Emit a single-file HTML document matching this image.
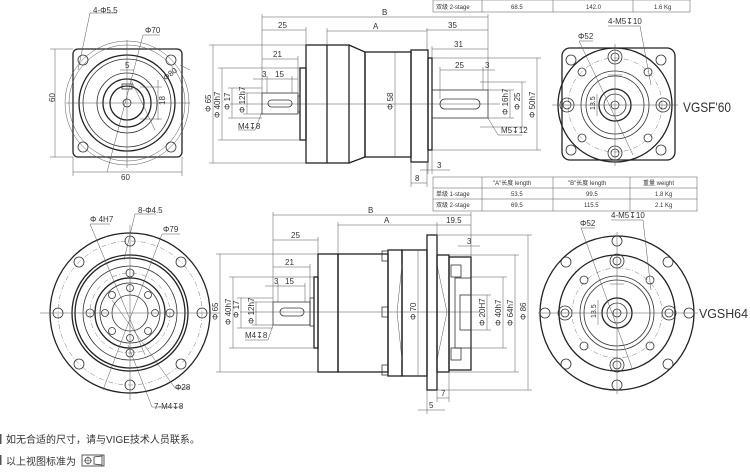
<!DOCTYPE html>
<html><head><meta charset="utf-8"><style>
body{margin:0;background:#fff;width:750px;height:476px;overflow:hidden}
svg{display:block}
text{font-family:"Liberation Sans","Noto Sans CJK SC",sans-serif;fill:#333}
.b{stroke:#222;stroke-width:1.3;fill:none}
.m{stroke:#333;stroke-width:0.8;fill:none}
.t{stroke:#555;stroke-width:0.5;fill:none}
.d{stroke:#777;stroke-width:0.5;fill:none;stroke-dasharray:5 2 1 2}
</style></head><body>
<svg width="750" height="476" viewBox="0 0 750 476" font-size="8">
<!-- ===== TOP LEFT END VIEW ===== -->
<g>
<rect x="73" y="49" width="109" height="108" rx="5" class="b"/>
<circle cx="127" cy="103" r="62" class="t"/>
<circle cx="127" cy="103" r="58" class="t"/>
<circle cx="127" cy="103" r="48" class="b"/>
<circle cx="127" cy="103" r="44" class="m"/>
<circle cx="127" cy="103" r="30" class="m"/>
<circle cx="127" cy="103" r="24" class="b"/>
<circle cx="127" cy="103" r="17" class="b"/>
<circle cx="127" cy="103" r="4" class="m"/>
<rect x="122" y="84" width="10" height="5" class="m"/>
<g class="m"><circle cx="83" cy="60" r="5"/><circle cx="171" cy="60" r="5"/><circle cx="83" cy="147" r="5"/><circle cx="171" cy="147" r="5"/></g>
<g class="t"><line x1="66" y1="103" x2="190" y2="103"/><line x1="127" y1="40" x2="127" y2="168"/>
<line x1="55" y1="49" x2="55" y2="157"/><line x1="50" y1="49" x2="73" y2="49"/><line x1="50" y1="157" x2="73" y2="157"/>
<line x1="73" y1="172" x2="182" y2="172"/><line x1="73" y1="157" x2="73" y2="176"/><line x1="182" y1="157" x2="182" y2="176"/>
<line x1="90" y1="13" x2="78" y2="70"/><line x1="90" y1="13" x2="117" y2="13"/>
<line x1="143" y1="35" x2="107" y2="172"/><line x1="143" y1="35" x2="160" y2="35"/>
<line x1="131" y1="80" x2="155" y2="130"/><line x1="158" y1="80" x2="158" y2="120"/><line x1="140" y1="87" x2="162" y2="87"/><line x1="140" y1="119" x2="162" y2="119"/>
<line x1="120" y1="70" x2="134" y2="70"/><line x1="180" y1="65" x2="190" y2="70"/></g>
<text x="93" y="13">4-Φ5.5</text><text x="145" y="33">Φ70</text>
<text x="163" y="77" transform="rotate(-40 170 75)">Φ80</text>
<text x="125" y="68">5</text><text x="160" y="106" transform="rotate(-90 162 103)">18</text>
<text x="121" y="180">60</text><text x="53" y="106" transform="rotate(-90 52 103)">60</text>
</g>

<!-- ===== TOP SIDE VIEW ===== -->
<g>
<line x1="230" y1="104" x2="500" y2="104" class="t"/>
<rect x="262" y="93" width="36" height="21" class="m"/>
<rect x="268" y="100" width="24" height="7" rx="3.5" class="m"/>
<rect x="298" y="96" width="2" height="16" class="m"/>
<rect x="300" y="68" width="6" height="72" class="b"/>
<rect x="306" y="45" width="43" height="118" class="b"/>
<line x1="327" y1="45" x2="327" y2="163" class="b"/>
<polyline points="349,45 365,52 365,157 349,163" class="b"/>
<rect x="365" y="52" width="46" height="105" class="b"/>
<rect x="411" y="50" width="17" height="112" class="b"/>
<rect x="428" y="58" width="4" height="92" class="b"/>
<rect x="432" y="90" width="56" height="28" class="m"/>
<rect x="440" y="99" width="40" height="10" rx="5" class="m"/>
<g class="t">
<line x1="262" y1="17" x2="488" y2="17"/><line x1="262" y1="14" x2="262" y2="93"/><line x1="488" y1="14" x2="488" y2="90"/>
<line x1="262" y1="30" x2="306" y2="30"/><line x1="306" y1="27" x2="306" y2="45"/>
<line x1="327" y1="31" x2="427" y2="31"/><line x1="327" y1="28" x2="327" y2="45"/><line x1="427" y1="28" x2="427" y2="50"/>
<line x1="427" y1="30" x2="488" y2="30"/>
<line x1="262" y1="59" x2="298" y2="59"/><line x1="298" y1="56" x2="298" y2="93"/>
<line x1="432" y1="49" x2="488" y2="49"/><line x1="432" y1="46" x2="432" y2="58"/>
<line x1="253" y1="79" x2="298" y2="79"/><line x1="267" y1="76" x2="267" y2="93"/><line x1="292" y1="76" x2="292" y2="93"/>
<line x1="440" y1="70" x2="495" y2="70"/><line x1="440" y1="67" x2="440" y2="99"/><line x1="483" y1="67" x2="483" y2="90"/>
<line x1="213" y1="45" x2="213" y2="163"/><line x1="209" y1="45" x2="306" y2="45"/><line x1="209" y1="163" x2="306" y2="163"/>
<line x1="222" y1="68" x2="222" y2="140"/><line x1="218" y1="68" x2="300" y2="68"/><line x1="218" y1="140" x2="300" y2="140"/>
<line x1="232" y1="88" x2="232" y2="118"/><line x1="228" y1="88" x2="262" y2="88"/><line x1="228" y1="118" x2="262" y2="118"/>
<line x1="247" y1="93" x2="247" y2="114"/><line x1="243" y1="93" x2="262" y2="93"/><line x1="243" y1="114" x2="262" y2="114"/>
<line x1="395" y1="52" x2="395" y2="157"/>
<line x1="510" y1="90" x2="510" y2="118"/><line x1="488" y1="90" x2="514" y2="90"/><line x1="488" y1="118" x2="514" y2="118"/>
<line x1="522" y1="82" x2="522" y2="127"/><line x1="480" y1="82" x2="526" y2="82"/><line x1="480" y1="127" x2="526" y2="127"/>
<line x1="537" y1="58" x2="537" y2="150"/><line x1="432" y1="58" x2="541" y2="58"/><line x1="432" y1="150" x2="541" y2="150"/>
<line x1="420" y1="170" x2="450" y2="170"/><line x1="428" y1="150" x2="428" y2="174"/><line x1="432" y1="150" x2="432" y2="174"/>
<line x1="411" y1="183" x2="427" y2="183"/><line x1="411" y1="162" x2="411" y2="187"/><line x1="427" y1="162" x2="427" y2="187"/>
<line x1="262" y1="112" x2="255" y2="130"/><line x1="238" y1="130" x2="255" y2="130"/>
<line x1="488" y1="118" x2="498" y2="135"/><line x1="498" y1="135" x2="522" y2="135"/>
</g>
<text x="382" y="15">B</text><text x="278" y="28">25</text><text x="373" y="29">A</text><text x="448" y="28">35</text>
<text x="273" y="57">21</text><text x="454" y="47">31</text><text x="262" y="77">3</text><text x="275" y="77">15</text>
<text x="455" y="68">25</text><text x="485" y="68">3</text>
<text x="238" y="129">M4↧8</text><text x="501" y="133">M5↧12</text>
<text x="437" y="168">3</text><text x="415" y="181">8</text>
<text transform="translate(211,112) rotate(-90)">Φ 65</text>
<text transform="translate(220,118) rotate(-90)">Φ 40h7</text>
<text transform="translate(230,110) rotate(-90)">Φ 17</text>
<text transform="translate(245,113) rotate(-90)">Φ 12h7</text>
<text transform="translate(393,110) rotate(-90)">Φ 58</text>
<text transform="translate(508,115) rotate(-90)">Φ 16h7</text>
<text transform="translate(520,110) rotate(-90)">Φ 25</text>
<text transform="translate(535,118) rotate(-90)">Φ 50h7</text>
</g>

<!-- ===== TOP TABLE ===== -->
<g font-size="6">
<rect x="433" y="0" width="257" height="12" class="t"/>
<g class="t"><line x1="482" y1="0" x2="482" y2="12"/><line x1="553" y1="0" x2="553" y2="12"/><line x1="633" y1="0" x2="633" y2="12"/></g>
<text x="436" y="9">双级 2-stage</text><text x="511" y="9">68.5</text><text x="586" y="9">142.0</text><text x="654" y="9">1.6 Kg</text>
</g>
<!-- ===== MID TABLE ===== -->
<g font-size="6">
<rect x="433" y="177" width="264" height="34" class="t"/>
<g class="t"><line x1="433" y1="188" x2="697" y2="188"/><line x1="433" y1="199" x2="697" y2="199"/>
<line x1="482" y1="177" x2="482" y2="211"/><line x1="553" y1="177" x2="553" y2="211"/><line x1="630" y1="177" x2="630" y2="211"/></g>
<text x="493" y="185">"A"长度 length</text><text x="568" y="185">"B"长度 length</text><text x="643" y="185">重量 weight</text>
<text x="436" y="196">单级 1-stage</text><text x="511" y="196">53.5</text><text x="586" y="196">99.5</text><text x="655" y="196">1.8 Kg</text>
<text x="436" y="207">双级 2-stage</text><text x="511" y="207">69.5</text><text x="584" y="207">115.5</text><text x="655" y="207">2.1 Kg</text>
</g>

<!-- ===== TOP RIGHT VIEW ===== -->
<g>
<rect x="562" y="48" width="113" height="112" rx="8" class="b"/>
<circle cx="615" cy="105" r="57" class="b"/>
<circle cx="615" cy="105" r="47" class="d"/>
<circle cx="615" cy="105" r="34" class="m"/>
<circle cx="615" cy="105" r="29" class="m"/>
<circle cx="615" cy="105" r="16" class="b"/>
<circle cx="615" cy="105" r="11" class="m"/>
<circle cx="615" cy="105" r="4" class="m"/>
<g class="m"><circle cx="615" cy="57" r="7"/><circle cx="615" cy="57" r="4"/><circle cx="615" cy="153" r="7"/><circle cx="615" cy="153" r="4"/>
<circle cx="567" cy="105" r="7"/><circle cx="567" cy="105" r="4"/><circle cx="663" cy="105" r="7"/><circle cx="663" cy="105" r="4"/>
<circle cx="582" cy="72" r="4"/><circle cx="648" cy="72" r="4"/><circle cx="582" cy="138" r="4"/><circle cx="648" cy="138" r="4"/>
<circle cx="571" cy="60" r="5"/><circle cx="661" cy="60" r="5"/><circle cx="571" cy="150" r="5"/><circle cx="661" cy="150" r="5"/></g>
<g class="t"><line x1="552" y1="105" x2="678" y2="105"/><line x1="615" y1="44" x2="615" y2="166"/>
<line x1="579" y1="41" x2="633" y2="155"/><line x1="579" y1="41" x2="593" y2="41"/>
<line x1="640" y1="26" x2="651" y2="85"/><line x1="608" y1="26" x2="640" y2="26"/>
<line x1="597" y1="94" x2="597" y2="116"/><line x1="608" y1="75" x2="622" y2="75"/></g>
<text x="608" y="24">4-M5↧10</text><text x="578" y="39">Φ52</text>
<text transform="translate(595,110) rotate(-90)" font-size="7">13.5</text>
<text x="683" y="112" font-size="14" textLength="48" lengthAdjust="spacingAndGlyphs">VGSF'60</text>
</g>

<!-- ===== BOTTOM LEFT VIEW ===== -->
<g>
<circle cx="130" cy="313" r="80" class="b"/>
<circle cx="130" cy="313" r="72" class="d"/>
<circle cx="130" cy="313" r="58" class="b"/>
<circle cx="130" cy="313" r="55" class="b"/>
<circle cx="130" cy="313" r="47" class="m"/>
<circle cx="130" cy="313" r="40" class="d"/>
<circle cx="130" cy="313" r="35" class="b"/>
<circle cx="130" cy="313" r="30" class="m"/>
<circle cx="130" cy="313" r="18" class="m"/>
<g class="m">
<circle cx="130" cy="241" r="5"/><circle cx="130" cy="385" r="5"/><circle cx="58" cy="313" r="5"/><circle cx="202" cy="313" r="5"/>
<circle cx="79" cy="262" r="5"/><circle cx="181" cy="262" r="5"/><circle cx="79" cy="364" r="5"/><circle cx="181" cy="364" r="5"/>
<circle cx="90" cy="313" r="4"/><circle cx="170" cy="313" r="4"/><circle cx="130" cy="273" r="4"/><circle cx="130" cy="353" r="4"/>
<circle cx="105" cy="313" r="3.5"/><circle cx="155" cy="313" r="3.5"/><circle cx="130" cy="288" r="3.5"/><circle cx="130" cy="338" r="3.5"/>
<circle cx="112" cy="295" r="3.5"/><circle cx="148" cy="295" r="3.5"/><circle cx="112" cy="331" r="3.5"/><circle cx="148" cy="331" r="3.5"/></g>
<g class="t"><line x1="40" y1="313" x2="220" y2="313"/><line x1="130" y1="225" x2="130" y2="400"/>
<line x1="90" y1="224" x2="145" y2="355"/><line x1="90" y1="224" x2="110" y2="224"/>
<line x1="135" y1="214" x2="124" y2="260"/><line x1="135" y1="214" x2="156" y2="214"/>
<line x1="162" y1="234" x2="103" y2="390"/><line x1="162" y1="234" x2="180" y2="234"/>
<line x1="112" y1="300" x2="175" y2="388"/><line x1="175" y1="388" x2="190" y2="388"/>
<line x1="128" y1="345" x2="152" y2="407"/><line x1="152" y1="407" x2="182" y2="407"/></g>
<text x="90" y="222">Φ 4H7</text><text x="138" y="213">8-Φ4.5</text><text x="163" y="232">Φ79</text>
<text x="175" y="390">Φ28</text><text x="154" y="409">7-M4↧8</text>
</g>

<!-- ===== BOTTOM SIDE VIEW ===== -->
<g>
<line x1="240" y1="312" x2="480" y2="312" class="t"/>
<rect x="273" y="302" width="37" height="23" class="m"/>
<rect x="280" y="308" width="24" height="8" rx="4" class="m"/>
<rect x="310" y="298" width="4" height="28" class="m"/>
<rect x="314" y="277" width="4" height="71" class="b"/>
<rect x="318" y="254" width="20" height="118" class="b"/>
<rect x="338" y="254" width="50" height="118" class="b"/>
<g class="m"><rect x="382" y="251" width="6" height="10"/><rect x="382" y="307" width="6" height="10"/><rect x="382" y="365" width="6" height="10"/></g>
<rect x="388" y="250" width="14" height="126" class="b"/>
<rect x="402" y="250" width="25" height="126" class="b"/>
<polyline points="402,265 397,312 402,360" class="t"/><polyline points="437,265 447,312 437,360" class="t"/>
<rect x="427" y="235" width="10" height="155" class="b"/>
<rect x="437" y="255" width="12" height="117" class="b"/>
<rect x="449" y="257" width="22" height="113" class="b" fill="#e8e8e8"/>
<rect x="451" y="265" width="10" height="12" class="m" fill="#fff"/>
<rect x="451" y="348" width="10" height="12" class="m" fill="#fff"/>
<rect x="455" y="278" width="16" height="70" class="m" fill="#ddd"/>
<rect x="460" y="295" width="11" height="35" class="m" fill="#fff"/>
<g class="t">
<line x1="273" y1="215" x2="471" y2="215"/><line x1="273" y1="212" x2="273" y2="302"/><line x1="471" y1="212" x2="471" y2="257"/>
<line x1="338" y1="225" x2="437" y2="225"/><line x1="338" y1="222" x2="338" y2="254"/>
<line x1="437" y1="225" x2="471" y2="225"/><line x1="437" y1="222" x2="437" y2="235"/>
<line x1="273" y1="240" x2="318" y2="240"/><line x1="318" y1="237" x2="318" y2="254"/>
<line x1="273" y1="267" x2="310" y2="267"/><line x1="310" y1="264" x2="310" y2="298"/>
<line x1="265" y1="286" x2="305" y2="286"/><line x1="278" y1="283" x2="278" y2="302"/><line x1="305" y1="283" x2="305" y2="302"/>
<line x1="220" y1="254" x2="220" y2="372"/><line x1="216" y1="254" x2="318" y2="254"/><line x1="216" y1="372" x2="318" y2="372"/>
<line x1="233" y1="277" x2="233" y2="348"/><line x1="229" y1="277" x2="314" y2="277"/><line x1="229" y1="348" x2="314" y2="348"/>
<line x1="241" y1="298" x2="241" y2="328"/><line x1="237" y1="298" x2="273" y2="298"/><line x1="237" y1="328" x2="273" y2="328"/>
<line x1="256" y1="302" x2="256" y2="325"/><line x1="252" y1="302" x2="273" y2="302"/><line x1="252" y1="325" x2="273" y2="325"/>
<line x1="418" y1="250" x2="418" y2="376"/>
<line x1="487" y1="295" x2="487" y2="330"/><line x1="471" y1="295" x2="491" y2="295"/><line x1="471" y1="330" x2="491" y2="330"/>
<line x1="503" y1="277" x2="503" y2="348"/><line x1="471" y1="277" x2="507" y2="277"/><line x1="471" y1="348" x2="507" y2="348"/>
<line x1="515" y1="255" x2="515" y2="372"/><line x1="449" y1="255" x2="519" y2="255"/><line x1="449" y1="372" x2="519" y2="372"/>
<line x1="528" y1="235" x2="528" y2="390"/><line x1="437" y1="235" x2="532" y2="235"/><line x1="437" y1="390" x2="532" y2="390"/>
<line x1="458" y1="246" x2="480" y2="246"/>
<line x1="437" y1="390" x2="437" y2="402"/><line x1="449" y1="372" x2="449" y2="402"/><line x1="437" y1="398" x2="449" y2="398"/>
<line x1="427" y1="390" x2="427" y2="414"/><line x1="418" y1="410" x2="445" y2="410"/>
<line x1="273" y1="325" x2="268" y2="340"/><line x1="245" y1="340" x2="268" y2="340"/>
</g>
<text x="368" y="213">B</text><text x="384" y="223">A</text><text x="446" y="223">19.5</text>
<text x="291" y="238">25</text><text x="285" y="265">21</text><text x="274" y="284">3</text><text x="285" y="284">15</text>
<text x="467" y="244">3</text><text x="441" y="396">7</text><text x="429" y="408">5</text>
<text x="245" y="338">M4↧8</text>
<text transform="translate(218,320) rotate(-90)">Φ 65</text>
<text transform="translate(231,325) rotate(-90)">Φ 40h7</text>
<text transform="translate(239,318) rotate(-90)">Φ 17</text>
<text transform="translate(254,324) rotate(-90)">Φ 12h7</text>
<text transform="translate(416,320) rotate(-90)">Φ 70</text>
<text transform="translate(485,326) rotate(-90)">Φ 20H7</text>
<text transform="translate(501,326) rotate(-90)">Φ 40h7</text>
<text transform="translate(513,326) rotate(-90)">Φ 64h7</text>
<text transform="translate(526,320) rotate(-90)">Φ 86</text>
</g>

<!-- ===== BOTTOM RIGHT VIEW ===== -->
<g>
<circle cx="617" cy="313" r="77" class="b"/>
<circle cx="617" cy="313" r="58" class="b"/>
<circle cx="617" cy="313" r="45" class="d"/>
<circle cx="617" cy="313" r="37" class="m"/>
<circle cx="617" cy="313" r="33" class="m"/>
<circle cx="617" cy="313" r="15" class="b"/>
<circle cx="617" cy="313" r="10" class="m"/>
<circle cx="617" cy="313" r="4" class="m"/>
<g class="m">
<circle cx="617" cy="241" r="5"/><circle cx="617" cy="385" r="5"/><circle cx="545" cy="313" r="5"/><circle cx="689" cy="313" r="5"/>
<circle cx="566" cy="262" r="5"/><circle cx="668" cy="262" r="5"/><circle cx="566" cy="364" r="5"/><circle cx="668" cy="364" r="5"/>
<circle cx="617" cy="261" r="7"/><circle cx="617" cy="261" r="4"/><circle cx="617" cy="365" r="7"/><circle cx="617" cy="365" r="4"/>
<circle cx="565" cy="313" r="7"/><circle cx="565" cy="313" r="4"/><circle cx="669" cy="313" r="7"/><circle cx="669" cy="313" r="4"/>
<circle cx="584" cy="280" r="4"/><circle cx="650" cy="280" r="4"/><circle cx="584" cy="346" r="4"/><circle cx="650" cy="346" r="4"/></g>
<g class="t"><line x1="538" y1="313" x2="698" y2="313"/><line x1="617" y1="232" x2="617" y2="394"/>
<line x1="581" y1="228" x2="632" y2="368"/><line x1="581" y1="228" x2="595" y2="228"/>
<line x1="643" y1="220" x2="651" y2="290"/><line x1="611" y1="220" x2="643" y2="220"/>
<line x1="598" y1="300" x2="598" y2="325"/><line x1="610" y1="284" x2="624" y2="284"/></g>
<text x="611" y="218">4-M5↧10</text><text x="580" y="226">Φ52</text>
<text transform="translate(596,318) rotate(-90)" font-size="7">13.5</text>
<text x="699" y="318" font-size="13" textLength="49" lengthAdjust="spacingAndGlyphs">VGSH64</text>
</g>

<!-- ===== NOTES ===== -->
<g font-size="10">
<rect x="0" y="434" width="1.5" height="10" fill="#555"/>
<text x="6" y="443">如无合适的尺寸，请与VIGE技术人员联系。</text>
<rect x="0" y="455" width="1.5" height="10" fill="#555"/>
<text x="6" y="465">以上视图标准为</text>
<rect x="82" y="455" width="22" height="11" class="m"/>
<circle cx="88" cy="460.5" r="3" class="m"/><line x1="84" y1="460.5" x2="92" y2="460.5" class="t"/><line x1="88" y1="456" x2="88" y2="465" class="t"/>
<polygon points="94,457 102,456 102,465 94,464" class="m"/>
</g>
</svg>
</body></html>
